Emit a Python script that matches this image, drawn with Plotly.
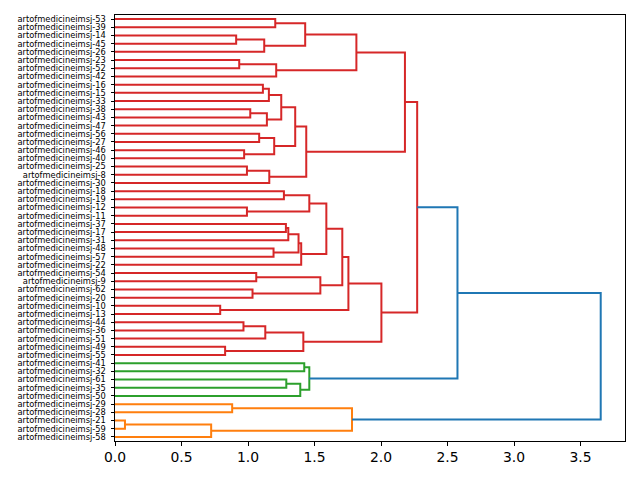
import plotly.graph_objects as go

# Leaves, top to bottom
leaf_ids = [53, 39, 14, 45, 26, 23, 52, 42, 16, 15, 33, 38, 43, 47, 56, 27, 46, 40, 25, 8,
            30, 18, 19, 12, 11, 37, 17, 31, 48, 57, 22, 54, 9, 62, 20, 10, 13, 44, 36, 51,
            49, 55, 41, 32, 61, 35, 50, 29, 28, 21, 59, 58]
leaf_labels = [f"artofmedicineimsj-{i}" for i in leaf_ids]

# Merges: name, left child, right child, height, cluster
merge_names = ["A", "B", "C", "D", "E", "F", "G", "I", "J", "K", "L", "M", "N", "O", "P", "Q",
               "R", "S", "T", "U", "V", "W", "X", "Y", "Z", "AA", "AB", "AC", "AD", "AE", "AF",
               "AG", "AH", "AI", "AJ", "AK", "AL", "AM", "AN", "AO", "AP",
               "GA", "GB", "GC", "GD", "OA", "OB", "OC", "OD", "BL1", "BL2"]
merge_left = ["L53", "L14", "B", "A", "L23", "E", "D", "L16", "I", "L38", "K", "J", "L56", "L46", "N", "M",
              "L25", "R", "Q", "G", "L18", "L12", "V", "L37", "Y", "L48", "Z", "AB", "X", "L54", "L62",
              "AE", "AD", "L10", "AH", "L44", "AK", "L49", "AL", "AJ", "U",
              "L41", "L61", "GB", "GA", "L29", "L21", "OB", "OA", "AP", "BL1"]
merge_right = ["L39", "L45", "L26", "C", "L52", "L42", "F", "L15", "L33", "L43", "L47", "L", "L27", "L40", "O", "P",
               "L8", "L30", "S", "T", "L19", "L11", "W", "L17", "L31", "L57", "AA", "L22", "AC", "L9", "L20",
               "AF", "AG", "L13", "AI", "L36", "L51", "L55", "AM", "AN", "AO",
               "L32", "L35", "L50", "GC", "L28", "L59", "L58", "OC", "GD", "OD"]
merge_heights = [1.205, 0.911, 1.122, 1.43, 0.934, 1.212, 1.815, 1.112, 1.157, 1.017, 1.142, 1.25, 1.084, 0.971, 1.197, 1.355,
                 0.992, 1.16, 1.438, 2.18, 1.27, 0.992, 1.461, 1.285, 1.303, 1.192, 1.38, 1.40, 1.589, 1.062, 1.034,
                 1.544, 1.709, 0.791, 1.755, 0.966, 1.13, 0.828, 1.416, 2.003, 2.272,
                 1.423, 1.288, 1.393, 1.461, 0.881, 0.075, 0.723, 1.782, 2.575, 3.652]
merge_cluster = ["C3"] * 41 + ["C2"] * 4 + ["C1"] * 4 + ["C0"] * 2

palette = {"C0": "#1f77b4", "C1": "#ff7f0e", "C2": "#2ca02c", "C3": "#d62728"}

N = len(leaf_ids)
pos = {}
for i, lid in enumerate(leaf_ids):
    pos[f"L{lid}"] = (0.0, 10 * (N - 1 - i) + 5)

fig = go.Figure()
for name, l, r, h, c in zip(merge_names, merge_left, merge_right, merge_heights, merge_cluster):
    x1, y1 = pos[l]
    x2, y2 = pos[r]
    fig.add_trace(go.Scatter(x=[x1, h, h, x2], y=[y1, y1, y2, y2], mode="lines",
                             line=dict(color=palette[c], width=2), hoverinfo="skip",
                             showlegend=False))
    pos[name] = (h, (y1 + y2) / 2)

xmax = max(merge_heights) * 1.05
tickvals_y = [10 * (N - 1 - i) + 5 for i in range(N)]

fig.update_layout(
    width=640, height=480,
    margin=dict(l=115, r=15, t=15, b=39),
    paper_bgcolor="white", plot_bgcolor="white",
    font=dict(family="DejaVu Sans", color="black"),
    showlegend=False,
)
fig.update_xaxes(range=[0, xmax], tickvals=[0, 0.5, 1, 1.5, 2, 2.5, 3, 3.5],
                 ticktext=["0.0", "0.5", "1.0", "1.5", "2.0", "2.5", "3.0", "3.5"],
                 ticks="outside", ticklen=3.5, tickcolor="black", tickfont=dict(size=13.9),
                 showline=True, linecolor="black", linewidth=1, mirror=True,
                 showgrid=False, zeroline=False)
fig.update_yaxes(range=[0, 10 * N], tickvals=tickvals_y, ticktext=leaf_labels,
                 ticks="outside", ticklen=3.5, tickcolor="black", tickfont=dict(size=8.3),
                 ticklabelstandoff=3,
                 showline=True, linecolor="black", linewidth=1, mirror=True,
                 showgrid=False, zeroline=False)

fig.write_html("out.html")
